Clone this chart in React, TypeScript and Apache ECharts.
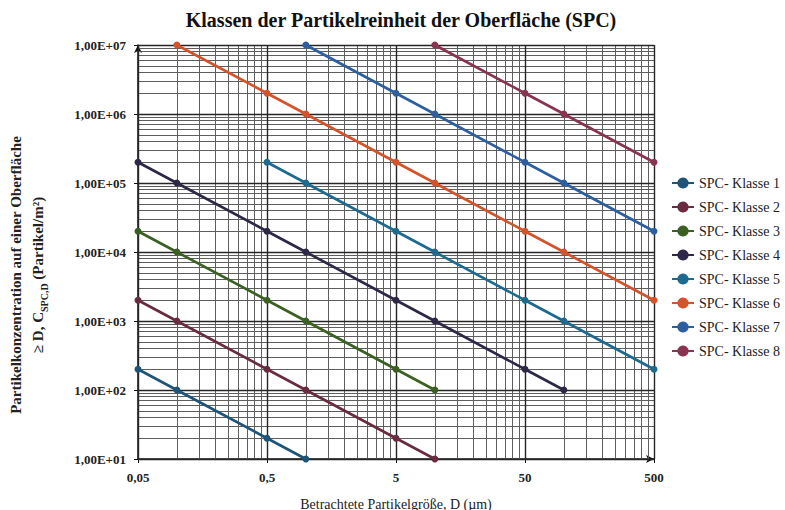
import React, { useEffect, useRef } from "react";
import * as echarts from "echarts";

const seriesNames = [
  "SPC- Klasse 1",
  "SPC- Klasse 2",
  "SPC- Klasse 3",
  "SPC- Klasse 4",
  "SPC- Klasse 5",
  "SPC- Klasse 6",
  "SPC- Klasse 7",
  "SPC- Klasse 8",
];

// [Partikelgröße D (µm), Konzentration (Partikel/m²)]
const klasse1 = [[0.05, 200], [0.1, 100], [0.5, 20], [1, 10]];
const klasse2 = [[0.05, 2000], [0.1, 1000], [0.5, 200], [1, 100], [5, 20], [10, 10]];
const klasse3 = [[0.05, 20000], [0.1, 10000], [0.5, 2000], [1, 1000], [5, 200], [10, 100]];
const klasse4 = [[0.05, 200000], [0.1, 100000], [0.5, 20000], [1, 10000], [5, 2000], [10, 1000], [50, 200], [100, 100]];
const klasse5 = [[0.5, 200000], [1, 100000], [5, 20000], [10, 10000], [50, 2000], [100, 1000], [500, 200]];
const klasse6 = [[0.1, 10000000], [0.5, 2000000], [1, 1000000], [5, 200000], [10, 100000], [50, 20000], [100, 10000], [500, 2000]];
const klasse7 = [[1, 10000000], [5, 2000000], [10, 1000000], [50, 200000], [100, 100000], [500, 20000]];
const klasse8 = [[10, 10000000], [50, 2000000], [100, 1000000], [500, 200000]];

const xTickLabels = [0.05, 0.5, 5, 50, 500];
const yTickLabels = [10, 100, 1000, 10000, 100000, 1000000, 10000000];

const allSeries = [klasse1, klasse2, klasse3, klasse4, klasse5, klasse6, klasse7, klasse8];
const colors = ["#1d5478", "#6a2b42", "#3a6022", "#2f2748", "#1d6a90", "#d4532a", "#2b5fa0", "#8a3350"];

const FONT = "Liberation Serif";

function yFmt(v: number) {
  const e = Math.round(Math.log10(v));
  const m = v / Math.pow(10, e);
  return m.toFixed(2).replace(".", ",") + "E+" + String(e).padStart(2, "0");
}

export default function App() {
  const ref = useRef<HTMLDivElement>(null);
  useEffect(() => {
    if (!ref.current) return;
    const chart = echarts.init(ref.current, undefined, { renderer: "svg" });

    const xMinor: number[] = [];
    for (let n = 0; n < 4; n++) for (let k = 2; k <= 9; k++) xMinor.push(xTickLabels[n] * k);
    const yMinor: number[] = [];
    for (let n = 0; n < 6; n++) for (let k = 2; k <= 9; k++) yMinor.push(yTickLabels[n] * k);

    const gridSeries = (name: string, xs: number[], ys: number[], color: string, width: number) => ({
      name,
      type: "line",
      data: [[0.05, 10]],
      showSymbol: false,
      symbol: "none",
      lineStyle: { opacity: 0 },
      silent: true,
      z: 1,
      markLine: {
        silent: true,
        symbol: "none",
        animation: false,
        label: { show: false },
        lineStyle: { color, width, type: "solid" },
        data: [...xs.map((v) => ({ xAxis: v })), ...ys.map((v) => ({ yAxis: v }))],
      },
    });

    chart.setOption({
      animation: false,
      backgroundColor: "#ffffff",
      title: {
        text: "Klassen der Partikelreinheit der Oberfläche (SPC)",
        left: 396,
        textAlign: "center",
        top: 5,
        textStyle: { fontFamily: FONT, fontSize: 20, fontWeight: "bold", color: "#111" },
      },
      legend: {
        data: seriesNames,
        orient: "vertical",
        left: 666,
        top: 171,
        itemGap: 10,
        itemWidth: 22,
        itemHeight: 14,
        textStyle: { fontFamily: FONT, fontSize: 14, color: "#222" },
      },
      graphic: [
        {
          type: "text",
          x: 27,
          y: 275,
          rotation: Math.PI / 2,
          style: {
            text: "{a|Partikelkonzentration auf einer Oberfläche}\n{a|≥ D, C}{s|SPC,D}{a| (Partikel/m²)}",
            align: "center",
            verticalAlign: "middle",
            fontFamily: FONT,
            fill: "#222",
            rich: {
              a: { fontFamily: FONT, fontSize: 15, fontWeight: "bold", fill: "#222", lineHeight: 22 },
              s: { fontFamily: FONT, fontSize: 10, fontWeight: "bold", fill: "#222", verticalAlign: "bottom", lineHeight: 22 },
            },
          },
        },
      ],
      grid: { left: 138, right: 131, top: 45, bottom: 51, containLabel: false, outerBoundsMode: "none" },
      xAxis: {
        type: "log",
        logBase: 10,
        min: 0.05,
        max: 500,
        name: "Betrachtete Partikelgröße, D (µm)",
        nameLocation: "middle",
        nameGap: 38,
        nameTextStyle: { fontFamily: FONT, fontSize: 14, color: "#222" },
        axisLine: { show: true, lineStyle: { color: "#111", width: 1.5 }, symbol: ["none", "arrow"], symbolSize: [6, 8] },
        axisTick: { show: true, length: 4, customValues: xTickLabels, lineStyle: { color: "#111" } },
        axisLabel: {
          customValues: xTickLabels,
          formatter: (v: number) => String(v).replace(".", ","),
          fontFamily: FONT,
          fontSize: 13,
          fontWeight: "bold",
          color: "#222",
          margin: 12,
        },
        splitLine: { show: false },
        minorTick: { show: false },
      },
      yAxis: {
        type: "log",
        logBase: 10,
        min: 10,
        max: 10000000,
        axisLine: { show: true, lineStyle: { color: "#111", width: 1.5 }, symbol: ["none", "arrow"], symbolSize: [6, 8] },
        axisTick: { show: true, length: 4, lineStyle: { color: "#111" } },
        axisLabel: {
          formatter: yFmt,
          fontFamily: FONT,
          fontSize: 13,
          fontWeight: "bold",
          color: "#222",
          margin: 12,
        },
        splitLine: { show: false },
      },
      series: [
        gridSeries("gridMinor", xMinor, yMinor, "#5e5e5e", 1),
        gridSeries("gridMajor", xTickLabels, yTickLabels, "#262626", 1.4),
        ...allSeries.map((d, i) => ({
          name: seriesNames[i],
          type: "line",
          data: d,
          symbol: "circle",
          symbolSize: 7,
          showSymbol: true,
          z: 5,
          color: colors[i],
          lineStyle: { width: 2.6, color: colors[i] },
          itemStyle: { color: colors[i] },
        })),
      ],
    });
    return () => chart.dispose();
  }, []);
  return <div ref={ref} style={{ position: "absolute", left: 0, top: 0, width: 785, height: 510 }} />;
}
